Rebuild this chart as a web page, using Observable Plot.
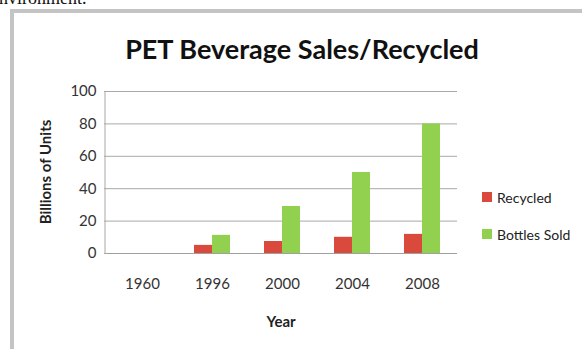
<!DOCTYPE html>
<html>
<head>
<meta charset="utf-8">
<script src="https://cdn.jsdelivr.net/npm/d3@7"></script>
<script src="https://cdn.jsdelivr.net/npm/@observablehq/plot@0.6"></script>
<style>
  html, body { margin: 0; padding: 0; background: #fff; }
  #wrap { position: relative; width: 582px; height: 349px; overflow: hidden; background: #fff; }
  #above { position: absolute; left: -9px; top: -11px; font: 18px "Liberation Serif", "DejaVu Serif", serif; line-height: 1; color: #111; white-space: nowrap; }
  #border { position: absolute; left: 10px; top: 9px; width: 700px; height: 500px; border-left: 4px solid #c4c4c4; border-top: 4px solid #c4c4c4; }
  #title { position: absolute; left: 0; top: 32px; width: 604px; text-align: center; font: bold 27px Lato, "Open Sans", sans-serif; color: #111; white-space: nowrap; }
  #ylabel { position: absolute; left: 45px; top: 172px; transform: translate(-50%, -50%) rotate(-90deg); font: bold 15px Lato, sans-serif; color: #222; white-space: nowrap; }
  #xlabel { position: absolute; left: 281px; top: 321px; transform: translate(-50%, -50%); font: bold 15px Lato, sans-serif; color: #222; }
  #legend { position: absolute; left: 482px; top: 189px; font: 14px Lato, sans-serif; color: #222; }
  .li { display: flex; align-items: center; height: 16px; margin-bottom: 21px; white-space: nowrap; }
  .sw { width: 10px; height: 10px; margin-right: 5px; }
  #chart { position: absolute; left: 0; top: 0; }
</style>
</head>
<body>
<div id="wrap">
  <div id="above">environment.</div>
  <div id="border"></div>
  <div id="chart"></div>
  <div id="title">PET Beverage Sales/Recycled</div>
  <div id="ylabel">Billions of Units</div>
  <div id="xlabel">Year</div>
  <div id="legend"></div>
</div>
<script>
const years = ["1960", "1996", "2000", "2004", "2008"];
const seriesNames = ["Recycled", "Bottles Sold"];
const recycled = [0, 5, 7.4, 10, 11.8];
const bottlesSold = [0, 11.2, 29, 50, 80];
const yTicks = [0, 20, 40, 60, 80, 100];
const colors = ["#d9493c", "#92d050"];

const data = [];
years.forEach((y, i) => {
  data.push({year: y, series: seriesNames[0], value: recycled[i]});
  data.push({year: y, series: seriesNames[1], value: bottlesSold[i]});
});

const chart = Plot.plot({
  width: 582,
  height: 349,
  marginLeft: 105,
  marginRight: 124,
  marginTop: 91,
  marginBottom: 96,
  style: {background: "transparent", fontFamily: "Lato, sans-serif", fontSize: "15px", color: "#333"},
  fx: {domain: years, padding: 0, label: null},
  x: {domain: seriesNames, paddingInner: 0, paddingOuter: 0.86, axis: null},
  y: {domain: [0, 100], axis: null},
  color: {domain: seriesNames, range: colors},
  marks: [
    Plot.gridY(yTicks, {stroke: "#a8a8a8", strokeOpacity: 1, strokeWidth: 1}),
    Plot.axisY(yTicks, {tickSize: 3, tickPadding: 8, stroke: "#a8a8a8", label: null, fill: "#333"}),
    Plot.barY(data, {fx: "year", x: "series", y: "value", fill: "series"}),
    Plot.ruleY([0], {stroke: "#a0a0a0"}),
    Plot.axisFx({anchor: "bottom", tickSize: 0, tickPadding: 25, label: null, fill: "#333"})
  ]
});
document.getElementById("chart").appendChild(chart);

// left axis line from the y scale
const ys = chart.scale("y");
d3.select(chart).append("line")
  .attr("x1", 105).attr("x2", 105)
  .attr("y1", ys.apply(0)).attr("y2", ys.apply(100))
  .attr("stroke", "#a8a8a8");

const legend = d3.select("#legend");
seriesNames.forEach((s, i) => {
  const row = legend.append("div").attr("class", "li");
  row.append("div").attr("class", "sw").style("background", colors[i]);
  row.append("span").text(s);
});
</script>
</body>
</html>
